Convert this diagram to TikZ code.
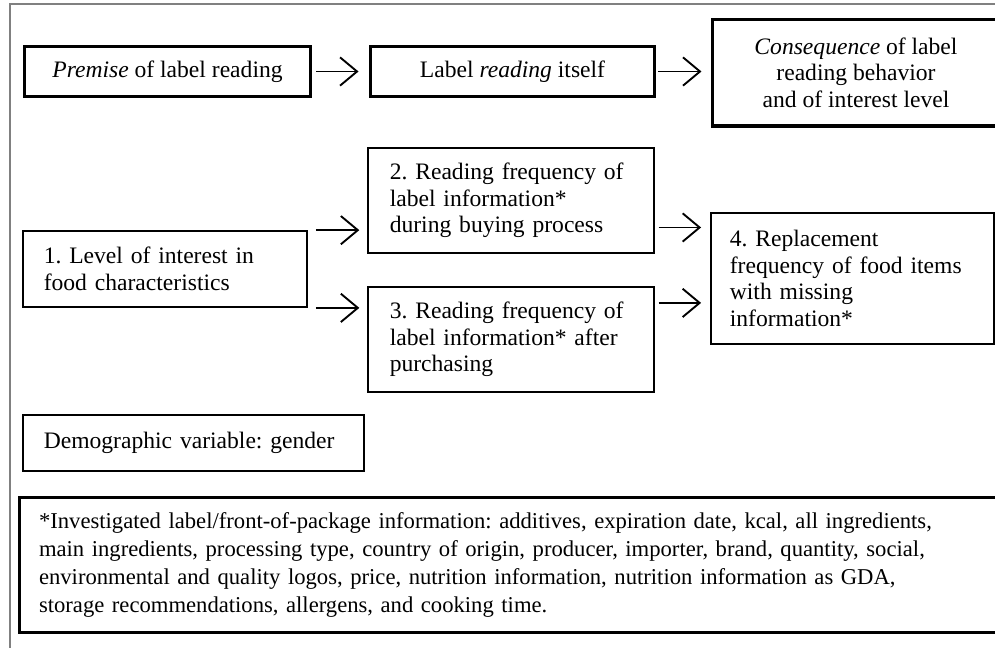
\documentclass[tikz,border=0pt]{standalone}
\usepackage{fontspec}
\setmainfont{Liberation Serif}
\usetikzlibrary{arrows.meta,calc}
\frenchspacing

\begin{document}
\begin{tikzpicture}[x=0.53pt,y=-0.53pt]

\tikzset{
    box/.style={draw,line width=0.9pt,rectangle,inner sep=0pt,
        font=\fontsize{12.5}{14}\selectfont},
    thick box/.style={box,line width=1.6pt,align=center},
    left box/.style={box,inner xsep=#1,align=left},
    arr/.style={line width=1pt,-{Straight Barb[length=9pt,width=15pt,line width=1pt]}}}

\useasboundingbox (0,0) rectangle (995,647);
\clip (0,0) rectangle (995,647);

% frame round the whole figure
\draw[gray,line width=1.1pt] (10,4) rectangle (1012,662);

% top row
\node[thick box, minimum width=152pt, minimum height=27pt] (prem) at (167.5,71.5)
    {\emph{Premise} of label reading};
\node[thick box, minimum width=151pt, minimum height=27pt] (read) at (512.5,71.5)
    {Label \emph{reading} itself};
\node[thick box, minimum width=151.6pt, minimum height=56.7pt] (cons) at (856,72.5)
    {\emph{Consequence} of label\\reading behavior\\and of interest level};

% second row
\node[left box=11pt, text width=128.5pt, minimum height=40.3pt] (n1) at (165,269)
    {1. Level of interest in\\food characteristics};
\node[left box=11.5pt, text width=128.5pt, minimum height=55.6pt] (n2) at (511,200.5)
    {2. Reading frequency of\\label information*\\during buying process};
\node[left box=11.5pt, text width=128.5pt, minimum height=55.6pt] (n3) at (511,339.5)
    {3. Reading frequency of\\label information* after\\purchasing};
\node[left box=10pt, text width=130pt, minimum height=69.4pt] (n4) at (852.5,278.5)
    {4. Replacement\\frequency of food items\\with missing\\information*};

\node[left box=11pt, text width=158.7pt, minimum height=29.7pt] (demo) at (193.5,443)
    {Demographic variable: gender};

\node[box, line width=1.6pt, inner xsep=10.6pt, text width=504pt, minimum height=72pt,
      align=left, font=\fontsize{12}{14.8}\selectfont] (foot) at (514.5,565)
    {*Investigated label/front-of-package information: additives, expiration date, kcal, all ingredients,\\
     main ingredients, processing type, country of origin, producer, importer, brand, quantity, social,\\
     environmental and quality logos, price, nutrition information, nutrition information as GDA,\\
     storage recommendations, allergens, and cooking time.};

% arrows
\draw[arr, shorten <=2.1pt, shorten >=5.3pt] (prem.east) -- (read.west);
\draw[arr, shorten <=1pt, shorten >=5.3pt] (read.east) -- (read.east -| cons.west);

\draw[arr, shorten <=4.2pt, shorten >=4.2pt] (n1.north east) -- (n1.north east -| n2.west);
\draw[arr, shorten <=4.2pt, shorten >=4.2pt] (n1.south east) -- (n1.south east -| n3.west);

\coordinate (a24) at ([yshift=-14.3pt]n2.east);
\coordinate (a34) at ([yshift=19.4pt]n3.west -| n3.east);
\draw[arr, shorten <=2.1pt, shorten >=4.8pt] (a24) -- (a24 -| n4.west);
\draw[arr, shorten <=2.1pt, shorten >=4.8pt] (a34) -- (a34 -| n4.west);

\end{tikzpicture}
\end{document}
